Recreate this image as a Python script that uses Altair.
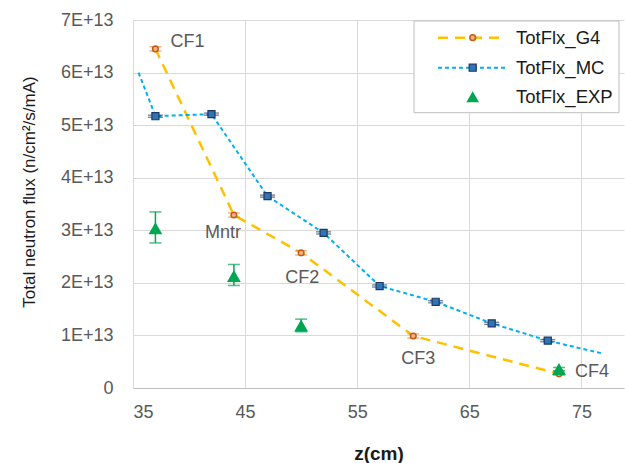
import altair as alt
import pandas as pd

# ---- data ----
g4_z = [37, 44, 50, 60, 73]
g4_flux = [6.45e13, 3.29e13, 2.57e13, 0.99e13, 0.27e13]
g4_err = [0.04e13, 0.04e13, 0.04e13, 0.04e13, 0.03e13]
g4_names = ["CF1", "Mntr", "CF2", "CF3", "CF4"]

mc_line_z = [35.5, 37, 42, 47, 52, 57, 62, 67, 72, 76.8]
mc_line_flux = [6.00e13, 5.17e13, 5.21e13, 3.65e13, 2.95e13, 1.94e13, 1.64e13, 1.23e13, 0.90e13, 0.66e13]
mc_z = [37, 42, 47, 52, 57, 62, 67, 72]
mc_flux = [5.17e13, 5.21e13, 3.65e13, 2.95e13, 1.94e13, 1.64e13, 1.23e13, 0.90e13]
mc_err = [0.02e13] * 8

exp_z = [37, 44, 50, 73]
exp_flux = [3.04e13, 2.13e13, 1.19e13, 0.36e13]
exp_lo = [2.76e13, 1.95e13, 1.07e13, 0.33e13]
exp_hi = [3.35e13, 2.35e13, 1.31e13, 0.39e13]

legend_names = ["TotFlx_G4", "TotFlx_MC", "TotFlx_EXP"]

# ---- tables ----
g4 = pd.DataFrame({"z": g4_z, "flux": g4_flux, "name": g4_names})
g4["lo"] = [f - e for f, e in zip(g4_flux, g4_err)]
g4["hi"] = [f + e for f, e in zip(g4_flux, g4_err)]
mc_line = pd.DataFrame({"z": mc_line_z, "flux": mc_line_flux})
mc = pd.DataFrame({"z": mc_z, "flux": mc_flux})
mc["lo"] = [f - e for f, e in zip(mc_flux, mc_err)]
mc["hi"] = [f + e for f, e in zip(mc_flux, mc_err)]
exp = pd.DataFrame({"z": exp_z, "flux": exp_flux, "lo": exp_lo, "hi": exp_hi})

FONT = "Liberation Sans"
GRAY = "#595959"

xscale = alt.Scale(domain=[35, 78.8], nice=False, zero=False)
yscale = alt.Scale(domain=[0, 7e13], nice=False)

x_axis = alt.Axis(
    values=[35, 45, 55, 65, 75], title="z(cm)", grid=True, gridColor="#d9d9d9",
    domainColor="#bfbfbf", domainWidth=1.2, ticks=False, labelPadding=15,
    labelFont=FONT, labelFontSize=18, labelColor=GRAY,
    titleFont=FONT, titleFontSize=19, titleFontWeight="bold", titleColor="#1a1a1a",
    titleY=65, titleBaseline="middle",
)
y_axis = alt.Axis(
    values=[0, 1e13, 2e13, 3e13, 4e13, 5e13, 6e13, 7e13],
    labelExpr="datum.value == 0 ? '0' : format(datum.value / 1e13, 'd') + 'E+13'",
    title="Total neutron flux (n/cm²/s/mA)", grid=True, gridColor="#d9d9d9",
    domain=False, ticks=False, labelPadding=20,
    labelFont=FONT, labelFontSize=18, labelColor=GRAY,
    titleFont=FONT, titleFontSize=17, titleFontWeight="normal", titleColor="#1a1a1a",
    titleX=-104, titleY=171.5, titleAlign="center", titleBaseline="middle",
)

X = alt.X("z:Q", scale=xscale, axis=x_axis)
Y = alt.Y("flux:Q", scale=yscale, axis=y_axis)
Xn = alt.X("z:Q", scale=xscale)
Yn = alt.Y("flux:Q", scale=yscale)

base_axes = alt.Chart(g4).mark_point(opacity=0).encode(x=X, y=Y)

g4_line = alt.Chart(g4).mark_line(color="#ffc000", strokeWidth=2.5, strokeDash=[10, 7]).encode(x=Xn, y=Yn)
g4_bar = alt.Chart(g4).mark_rule(color="#ed7d31", strokeWidth=1).encode(x=Xn, y=alt.Y("lo:Q", scale=yscale), y2="hi:Q")
g4_cap_lo = alt.Chart(g4).mark_tick(orient="horizontal", size=12, thickness=1.2, color="#ed7d31").encode(x=Xn, y=alt.Y("lo:Q", scale=yscale))
g4_cap_hi = alt.Chart(g4).mark_tick(orient="horizontal", size=12, thickness=1.2, color="#ed7d31").encode(x=Xn, y=alt.Y("hi:Q", scale=yscale))
g4_pts = alt.Chart(g4).mark_point(shape="circle", filled=True, size=32, fill="#f4b183", stroke="#c55a11", strokeWidth=1.5, opacity=1).encode(x=Xn, y=Yn)

mc_ln = alt.Chart(mc_line).mark_line(color="#00b0f0", strokeWidth=2, strokeDash=[4, 3]).encode(x=Xn, y=Yn)
mc_cap_lo = alt.Chart(mc).mark_tick(orient="horizontal", size=15, thickness=1.2, color="#203864").encode(x=Xn, y=alt.Y("lo:Q", scale=yscale))
mc_cap_hi = alt.Chart(mc).mark_tick(orient="horizontal", size=15, thickness=1.2, color="#203864").encode(x=Xn, y=alt.Y("hi:Q", scale=yscale))
mc_pts = alt.Chart(mc).mark_point(shape="square", filled=True, size=50, fill="#2e75b6", stroke="#203864", strokeWidth=1.2, opacity=1).encode(x=Xn, y=Yn)

exp_bar = alt.Chart(exp).mark_rule(color="#00a651", strokeWidth=1.5).encode(x=Xn, y=alt.Y("lo:Q", scale=yscale), y2="hi:Q")
exp_cap_lo = alt.Chart(exp).mark_tick(orient="horizontal", size=12, thickness=1.5, color="#00a651").encode(x=Xn, y=alt.Y("lo:Q", scale=yscale))
exp_cap_hi = alt.Chart(exp).mark_tick(orient="horizontal", size=12, thickness=1.5, color="#00a651").encode(x=Xn, y=alt.Y("hi:Q", scale=yscale))
exp_pts = alt.Chart(exp).mark_point(shape="triangle-up", filled=True, size=190, fill="#00a651", opacity=1).encode(x=Xn, y=Yn)

# point labels (offsets in pixels from each G4 point)
offsets = {"CF1": (32, -7), "Mntr": (-11, 18), "CF2": (1, 25), "CF3": (5, 23), "CF4": (33, -2)}
labels = []
for nm, (dx, dy) in offsets.items():
    labels.append(
        alt.Chart(g4).transform_filter(alt.datum.name == nm)
        .mark_text(font=FONT, fontSize=18, color=GRAY, dx=dx, dy=dy, align="center", baseline="middle")
        .encode(x=Xn, y=Yn, text="name:N")
    )

# manual legend
one = pd.DataFrame({"a": [0]})
leg = [
    alt.Chart(one).mark_rect(fill="white", stroke="#bfbfbf", strokeWidth=1).encode(
        x=alt.value(281), x2=alt.value(486), y=alt.value(1), y2=alt.value(92.7))
]
rows = [17.7, 47.7, 76.7]
leg.append(alt.Chart(one).mark_rule(color="#ffc000", strokeWidth=2.5, strokeDash=[10, 7]).encode(
    x=alt.value(305), x2=alt.value(372), y=alt.value(rows[0])))
leg.append(alt.Chart(one).mark_point(shape="circle", filled=True, size=32, fill="#f4b183", stroke="#c55a11", strokeWidth=1.5, opacity=1).encode(
    x=alt.value(339.7), y=alt.value(rows[0])))
leg.append(alt.Chart(one).mark_rule(color="#00b0f0", strokeWidth=2, strokeDash=[4, 3]).encode(
    x=alt.value(305), x2=alt.value(372), y=alt.value(rows[1])))
leg.append(alt.Chart(one).mark_point(shape="square", filled=True, size=50, fill="#2e75b6", stroke="#203864", strokeWidth=1.2, opacity=1).encode(
    x=alt.value(339.7), y=alt.value(rows[1])))
leg.append(alt.Chart(one).mark_point(shape="triangle-up", filled=True, size=160, fill="#00a651", opacity=1).encode(
    x=alt.value(339.7), y=alt.value(rows[2])))
for nm, ry in zip(legend_names, rows):
    leg.append(alt.Chart(pd.DataFrame({"t": [nm]})).mark_text(font=FONT, fontSize=18.5, color="#1a1a1a", align="left", baseline="middle").encode(
        x=alt.value(383), y=alt.value(ry), text="t:N"))

chart = alt.layer(
    base_axes, g4_line, g4_bar, g4_cap_lo, g4_cap_hi, g4_pts,
    mc_ln, mc_cap_lo, mc_cap_hi, mc_pts,
    exp_bar, exp_cap_lo, exp_cap_hi, exp_pts,
    *labels, *leg
).properties(
    width=491, height=368,
    autosize=alt.AutoSizeParams(type="none"),
    padding={"left": 133, "top": 20, "right": 1, "bottom": 75},
    background="white",
).configure_view(stroke=None)

chart.save("out.html", embed_options={"renderer": "svg", "actions": False})
